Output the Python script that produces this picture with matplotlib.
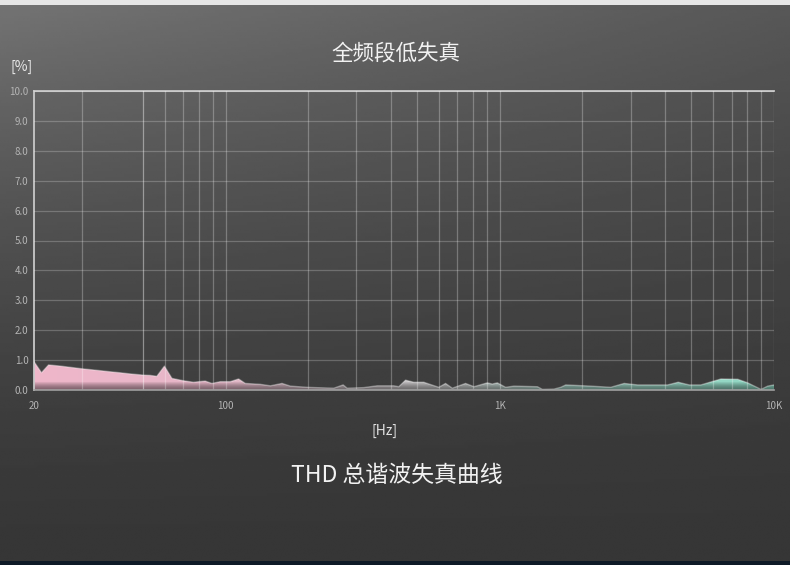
import numpy as np
import matplotlib
matplotlib.use('Agg')
import matplotlib.pyplot as plt
from matplotlib.colors import LinearSegmentedColormap

plt.rcParams['font.family'] = ['Noto Sans CJK SC', 'DejaVu Sans']

# THD curve (Hz, %)
freq = [20, 21.3, 22.6, 25, 27.1, 30, 33.9, 38, 41, 44.8,
        50, 53, 56.1, 59.8, 63.7, 70.2, 76.3, 84.2, 89.1, 95.6,
        103.9, 111.5, 118, 133.8, 145.6, 160.6, 172.2, 198, 247.9, 268.3,
        277.4, 319, 357, 410.6, 428, 453, 485.8, 528, 543.6, 599,
        634, 671, 750, 805, 900, 939, 979, 1050, 1126, 1371,
        1430, 1576, 1668, 1740, 2146, 2538, 2840, 3180, 4092, 4473,
        4906, 5413, 6406, 7373, 8018, 8968, 9486, 10000]
thd = [0.95, 0.58, 0.84, 0.80, 0.76, 0.71, 0.66, 0.61, 0.58, 0.54,
       0.50, 0.49, 0.46, 0.80, 0.39, 0.31, 0.26, 0.30, 0.22, 0.28,
       0.28, 0.37, 0.22, 0.19, 0.14, 0.22, 0.13, 0.09, 0.06, 0.17,
       0.06, 0.08, 0.14, 0.14, 0.11, 0.33, 0.26, 0.26, 0.22, 0.09,
       0.22, 0.06, 0.22, 0.11, 0.24, 0.20, 0.24, 0.09, 0.13, 0.11,
       0.02, 0.03, 0.09, 0.17, 0.13, 0.09, 0.22, 0.17, 0.17, 0.26,
       0.17, 0.17, 0.37, 0.36, 0.24, 0.02, 0.13, 0.17]

grid_freqs = [30, 50, 60, 70, 80, 90, 100,
              200, 300, 400, 500, 600, 700, 800, 900, 1000,
              2000, 3000, 4000, 5000, 6000, 7000, 8000, 9000, 10000]
x_ticks = [20, 100, 1000, 10000]
x_labels = ['20', '100', '1K', '10K']
y_ticks = [0, 1, 2, 3, 4, 5, 6, 7, 8, 9, 10]

W, H = 790, 565
fig = plt.figure(figsize=(W / 100, H / 100), dpi=100)

# background gradient
bg = fig.add_axes([0, 0, 1, 1], zorder=-10)
gx, gy = np.meshgrid(np.linspace(0, 1, 200), np.linspace(0, 1, 200))
v = 54 + 62 * np.clip(1 - gy, 0, 1) ** 1.6 * (1 - 0.45 * gx)
bg.imshow(v / 255.0, cmap='gray', vmin=0, vmax=1, extent=[0, 1, 0, 1],
          origin='upper', aspect='auto')
bg.add_patch(plt.Rectangle((0, 1 - 5 / H), 1, 5 / H, color='#e6e6e6', lw=0))
bg.add_patch(plt.Rectangle((0, 0), 1, 4 / H, color='#0e1a27', lw=0))
bg.set_xlim(0, 1)
bg.set_ylim(0, 1)
bg.axis('off')

ax = fig.add_axes([34 / W, 1 - 390 / H, (774 - 34) / W, (390 - 91) / H])
ax.set_facecolor('none')
ax.set_xscale('log')
ax.set_xlim(20, 10000)
ax.set_ylim(0, 10)

for f in grid_freqs:
    ax.axvline(f, color='white', alpha=0.42 if f == 50 else 0.27, lw=0.9, zorder=4)
for yv in y_ticks[1:]:
    ax.axhline(yv, color='white', alpha=0.22, lw=0.9, zorder=4)

# filled curve with colour gradient
poly = ax.fill_between(freq, thd, 0, color='none', lw=0, zorder=2)
cmap = LinearSegmentedColormap.from_list('thd', [
    (0.0, '#efb6ca'), (0.25, '#e6b7c8'), (0.42, '#cbc0c5'),
    (0.58, '#c9cccb'), (0.72, '#a9d6ca'), (1.0, '#8ed8c3')])
hx = np.linspace(0, 1, 400)
rgb = cmap(hx)[:, :3]
vy = np.linspace(0, 1, 300)
shade = np.where(vy < 0.027, 0.55 + 0.45 * (vy / 0.027) ** 1.5, 1.0)
img = rgb[None, :, :] * shade[:, None, None]
im = ax.imshow(img, extent=[0, 1, 0, 1], transform=ax.transAxes,
               origin='lower', aspect='auto', zorder=2, interpolation='bilinear')
im.set_clip_path(poly.get_paths()[0], transform=ax.transData)
ax.plot(freq, thd, color='white', alpha=0.35, lw=1.0, zorder=3)

for s in ['top', 'left']:
    ax.spines[s].set_color('#c8c8c8')
    ax.spines[s].set_linewidth(1.3)
ax.spines['bottom'].set_color('#a0a0a0')
ax.spines['bottom'].set_linewidth(1.2)
ax.spines['bottom'].set_zorder(5)
ax.spines['right'].set_visible(False)

ax.set_xticks(x_ticks)
ax.set_xticklabels(x_labels)
ax.xaxis.set_minor_locator(matplotlib.ticker.NullLocator())
ax.set_yticks(y_ticks)
ax.set_yticklabels([f'{t:.1f}' for t in y_ticks])
ax.tick_params(length=0, labelsize=7, labelcolor='#b4b4b4')
ax.tick_params(axis='x', pad=8)
ax.tick_params(axis='y', pad=4)

fig.text(396 / W, 1 - 54 / H, '全频段低失真', ha='center', va='center',
         fontsize=15.5, color='#f2f2f2')
fig.text(22 / W, 1 - 67 / H, '[%]', ha='center', va='center',
         fontsize=10, color='#e8e8e8')
fig.text(385 / W, 1 - 431 / H, '[Hz]', ha='center', va='center',
         fontsize=10, color='#e0e0e0')
fig.text(397 / W, 1 - 475 / H, 'THD 总谐波失真曲线', ha='center', va='center',
         fontsize=16.5, color='#f2f2f2')

fig.savefig('out.png', dpi=100)
